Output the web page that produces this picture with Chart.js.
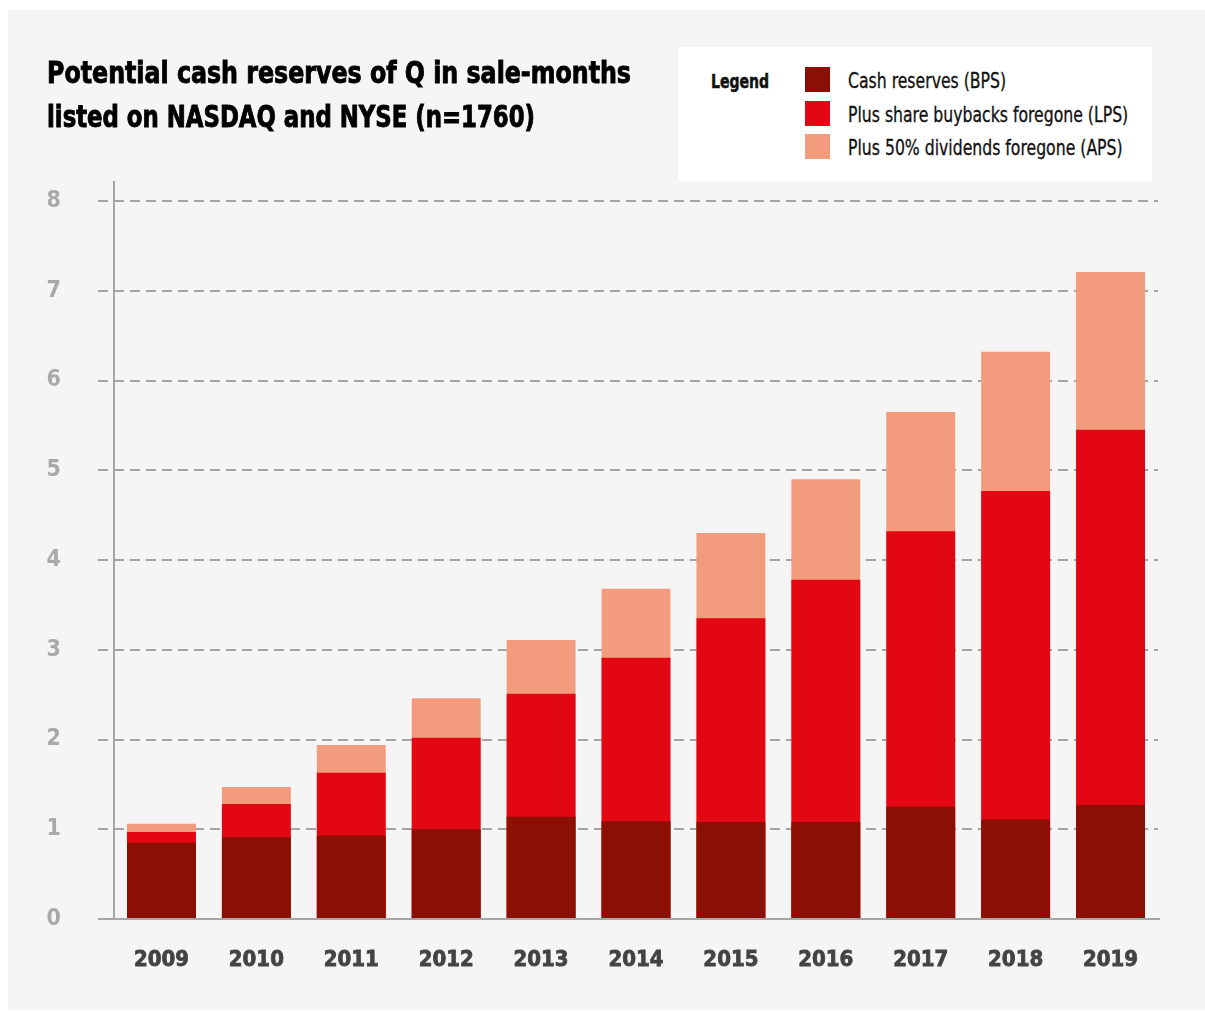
<!DOCTYPE html>
<html>
<head>
<meta charset="utf-8">
<script src="https://cdn.jsdelivr.net/npm/chart.js@4.4.1/dist/chart.umd.min.js"></script>
<style>
  html, body { margin: 0; padding: 0; background: #ffffff; }
  body { width: 1205px; height: 1012px; position: relative; overflow: hidden; }
  #panel { position: absolute; left: 8px; top: 10px; width: 1197px; height: 1000px; background: #f5f5f5; }
  #title { position: absolute; left: 47px; top: 50px; margin: 0; font-family: "DejaVu Sans Condensed", "DejaVu Sans", sans-serif; font-stretch: condensed; font-weight: 700; font-size: 31px; line-height: 44px; color: #000; -webkit-text-stroke: 0.9px #000; z-index: 3; }
  #title span { display: inline-block; white-space: nowrap; transform-origin: 0 0; }
  #legend { position: absolute; left: 678px; top: 47px; width: 474px; height: 134px; background: #ffffff; z-index: 2; font-family: "DejaVu Sans Condensed", "DejaVu Sans", sans-serif; font-stretch: condensed; color: #111; }
  #legend .head { position: absolute; left: 33px; top: 22px; font-weight: 700; font-size: 20px; line-height: 25px; white-space: nowrap; -webkit-text-stroke: 0.5px #111; transform: scaleX(0.78); transform-origin: 0 0; }
  #legend .item { position: absolute; left: 127px; height: 25px; }
  #legend .sw { position: absolute; left: 0; top: 0; width: 25px; height: 25px; }
  #legend .lbl { position: absolute; left: 43px; top: 2px; white-space: nowrap; font-size: 21px; line-height: 25px; -webkit-text-stroke: 0.3px #111; transform: scaleX(0.83); transform-origin: 0 0; }
  #wrap { position: absolute; left: 8px; top: 10px; width: 1197px; height: 1000px; z-index: 1; }
</style>
</head>
<body>
<div id="panel"></div>
<div id="title"><span id="t1">Potential cash reserves of Q in sale-months</span><br><span id="t2">listed on NASDAQ and NYSE (n=1760)</span></div>
<div id="legend"><div class="head">Legend</div></div>
<div id="wrap"><canvas id="c" width="1197" height="1000"></canvas></div>
<script>
// Data (cumulative levels)
const years = ["2009","2010","2011","2012","2013","2014","2015","2016","2017","2018","2019"];
const cashReserves = [0.85, 0.91, 0.93, 1.00, 1.14, 1.09, 1.08, 1.08, 1.25, 1.11, 1.27];
const plusBuybacks = [0.97, 1.28, 1.63, 2.02, 2.51, 2.91, 3.35, 3.78, 4.32, 4.77, 5.45];
const plusDividends = [1.06, 1.47, 1.94, 2.46, 3.11, 3.68, 4.30, 4.90, 5.65, 6.32, 7.21];
const yTicks = [0, 1, 2, 3, 4, 5, 6, 7, 8];
const seriesNames = ["Cash reserves (BPS)", "Plus share buybacks foregone (LPS)", "Plus 50% dividends foregone (APS)"];
const seriesColors = ["#8b0f03", "#e30613", "#f39c7d"];

const FONT = '"DejaVu Sans Condensed", "DejaVu Sans", sans-serif';

// fit title line widths to the reference
const t1 = document.getElementById('t1'), t2 = document.getElementById('t2');
t1.style.transform = 'scaleX(' + (584 / t1.getBoundingClientRect().width) + ')';
t2.style.transform = 'scaleX(' + (488 / t2.getBoundingClientRect().width) + ')';

// HTML legend
const lg = document.getElementById('legend');
seriesNames.forEach((n, i) => {
  const it = document.createElement('div');
  it.className = 'item';
  it.style.top = (20 + i * 33.5) + 'px';
  it.innerHTML = '<div class="sw" style="background:' + seriesColors[i] + '"></div><div class="lbl">' + n + '</div>';
  lg.appendChild(it);
});

const axisLines = {
  id: 'axisLines',
  afterDatasetsDraw(chart) {
    const { ctx, chartArea, scales } = chart;
    ctx.save();
    ctx.strokeStyle = '#a6a6a6';
    ctx.lineWidth = 2;
    ctx.setLineDash([]);
    ctx.beginPath();
    const y0 = scales.y.getPixelForValue(0);
    ctx.moveTo(chartArea.left - 16, y0);
    ctx.lineTo(chartArea.right + 2, y0);
    ctx.moveTo(chartArea.left, chartArea.top - 20);
    ctx.lineTo(chartArea.left, y0);
    ctx.stroke();
    ctx.restore();
  }
};

const datasets = [cashReserves, plusBuybacks, plusDividends].map((d, i) => ({
  label: seriesNames[i],
  data: d,
  backgroundColor: seriesColors[i],
  borderWidth: 0,
  grouped: false,
  barPercentage: 0.726,
  categoryPercentage: 1.0,
  order: i
}));

new Chart(document.getElementById('c'), {
  type: 'bar',
  data: { labels: years, datasets },
  options: {
    responsive: false,
    animation: false,
    events: [],
    layout: { padding: { top: 191, right: 47, left: 0, bottom: 0 } },
    plugins: { legend: { display: false }, tooltip: { enabled: false }, title: { display: false } },
    scales: {
      x: {
        grid: { display: false, drawTicks: false },
        border: { display: false },
        ticks: { color: '#434343', padding: 28, textStrokeColor: '#434343', textStrokeWidth: 0.8, font: { family: FONT, size: 22, weight: 'bold' } },
        afterFit(s) { s.height = 91; }
      },
      y: {
        min: 0, max: 8,
        afterBuildTicks(s) { s.ticks = yTicks.map(v => ({ value: v })); },
        grid: {
          color: '#a3a3a3', lineWidth: 2, tickLength: 16,
          tickColor: '#a3a3a3', tickWidth: 2,
          tickBorderDash: [10, 6]
        },
        border: { display: false, dash: [10, 6] },
        ticks: { color: '#a9a9a9', padding: 37, font: { family: FONT, size: 23, weight: 'bold' } },
        afterFit(s) { s.width = 106; }
      }
    }
  },
  plugins: [axisLines]
});
</script>
</body>
</html>
